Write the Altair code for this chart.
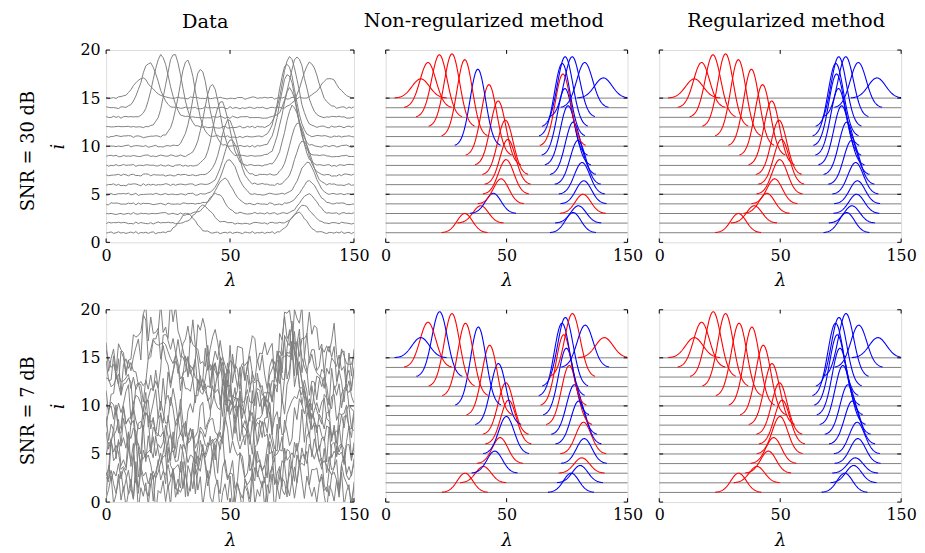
import altair as alt
import numpy as np
import pandas as pd

# ---------------- data ----------------
ROWS = [1, 2, 3, 4, 5, 6, 7, 8, 9, 10, 11, 12, 13, 14, 15]
SIGMA = [3.2, 3.2, 3.2, 3.2, 3.2, 3.2, 3.2, 3.2, 3.2, 3.2, 3.2, 3.2, 3.2, 3.3, 3.6]

# SNR = 30 dB : component 1 (left) and component 2 (right)
HI_LEFT_C = [32.7, 39.3, 44.5, 47.7, 49.8, 50.5, 49.5, 46.5, 42.7, 38.1, 32.7, 27.4, 22.2, 17.5, 14.5]
HI_LEFT_A = [2.0, 1.8, 2.1, 2.6, 3.6, 4.7, 5.7, 6.7, 7.4, 8.0, 8.0, 7.6, 6.5, 4.7, 2.0]
HI_RIGHT_C = [77.5, 79.7, 81.6, 81.9, 81.2, 79.5, 77.5, 75.4, 74.1, 73.3, 73.0, 74.2, 77.1, 82.3, 90.0]
HI_RIGHT_A = [2.1, 1.8, 2.0, 2.4, 3.3, 4.6, 5.5, 6.2, 7.0, 7.5, 7.6, 7.3, 6.3, 4.7, 2.1]
# rows where the non-regularized method swaps the two components
HI_SWAP = [3, 10]

# SNR = 7 dB
LO_LEFT_C = [32.8, 40.4, 45.1, 47.3, 49.9, 50.8, 49.7, 46.6, 43.0, 38.3, 33.0, 27.4, 22.3, 17.5, 14.5]
LO_LEFT_A = [2.0, 1.7, 2.3, 2.7, 3.9, 4.6, 5.4, 6.4, 7.3, 8.2, 7.6, 7.6, 6.8, 4.7, 2.1]
LO_RIGHT_C = [76.7, 80.4, 81.1, 82.1, 81.8, 79.8, 78.0, 75.9, 74.7, 73.6, 72.9, 74.3, 77.2, 82.5, 90.4]
LO_RIGHT_A = [2.0, 1.8, 1.6, 2.6, 3.3, 4.5, 5.2, 6.2, 7.0, 7.4, 7.6, 7.2, 6.6, 4.4, 2.1]
LO_SWAP = [3, 5, 8, 10, 13, 15]

# measurement noise (hand-typed offsets, reused per row with a row-specific stride)
NOISE = [0.4, -1.1, 0.9, 1.6, -0.3, -1.8, 0.7, 0.2, -0.9, 1.3,
         -0.5, 2.1, -1.4, 0.1, 0.8, -2.0, 1.1, -0.6, 0.3, 1.7,
         -1.2, -0.2, 1.9, -0.8, 0.6, -1.5, 0.0, 1.4, -0.7, 2.3,
         -1.9, 0.5, -0.4, 1.0, -1.3, 0.9, 1.8, -2.2, 0.2, -0.1,
         1.2, -1.0, 0.7, -1.6, 2.0, -0.3, 0.4, -0.9, 1.5, -2.4,
         0.8, 0.1, -1.2, 1.6, -0.6, 1.1, -1.7, 0.3, 2.2, -0.5,
         -1.1, 0.6, 1.3, -2.1, 0.0, 0.9, -0.8, 1.7, -1.4, 0.2,
         1.0, -0.2, -1.9, 1.4, 0.5, -0.7, 2.4, -1.3, 0.3, -0.4,
         1.2, -1.6, 0.8, -0.1, 1.9, -2.3, 0.6, -0.9, 1.1, 0.4,
         -1.5, 2.0, -0.6, 0.7, -1.0, 1.5, -0.3, -1.8, 0.9, 0.1,
         -0.7]
NOISE_SCALE = {"hi": 0.05, "lo": 1.0}

COL_TITLES = ["Data", "Non-regularized method", "Regularized method"]
ROW_LABELS = ["SNR = 30 dB", "SNR = 7 dB"]
X_TICKS = [0, 50, 100]
X_TICK_LABELS = ["0", "50", "150"]
Y_TICKS = [0, 5, 10, 15, 20]

FONT = "DejaVu Serif"
RED = "#ff0000"
BLUE = "#0000ff"
GRAY = "#808080"

PARAMS = {
    "hi": (HI_LEFT_C, HI_LEFT_A, HI_RIGHT_C, HI_RIGHT_A, HI_SWAP),
    "lo": (LO_LEFT_C, LO_LEFT_A, LO_RIGHT_C, LO_RIGHT_A, LO_SWAP),
}


def gauss(x, c, a, s):
    return a * np.exp(-0.5 * ((x - c) / s) ** 2)


def data_frame(level):
    lc, la, rc, ra, _ = PARAMS[level]
    lam = np.arange(0, 101)
    recs = []
    for j, r in enumerate(ROWS):
        idx = (lam * r + 17 * r) % len(NOISE)
        noise = np.array(NOISE)[idx] * NOISE_SCALE[level]
        y = r + gauss(lam, lc[j], la[j], SIGMA[j]) + gauss(lam, rc[j], ra[j], SIGMA[j]) + noise
        for xv, yv in zip(lam, y):
            recs.append({"lam": float(xv), "y": float(yv), "row": r})
    return pd.DataFrame(recs)


def comp_frame(level, regularized):
    lc, la, rc, ra, swap = PARAMS[level]
    recs = []
    for j, r in enumerate(ROWS):
        s = SIGMA[j]
        for name, c, a in (("L", lc[j], la[j]), ("R", rc[j], ra[j])):
            col = "red" if name == "L" else "blue"
            if not regularized and r in swap:
                col = "blue" if col == "red" else "red"
            xs = np.arange(max(0.0, c - 3 * s), min(100.0, c + 3 * s) + 1e-9, 0.25)
            for xv in xs:
                recs.append({"lam": float(xv), "y": float(r + gauss(xv, c, a, s)),
                             "key": f"{r}-{name}", "col": col})
    return pd.DataFrame(recs)


xscale = alt.Scale(domain=[0, 100], nice=False, zero=False)
yscale = alt.Scale(domain=[0, 20], nice=False, zero=False)
label_expr = " : ".join(
    [f"datum.value == {v} ? '{t}'" for v, t in zip(X_TICKS, X_TICK_LABELS)] + ["''"]
)

LBL = 16
xaxis = alt.Axis(values=X_TICKS, labelExpr=label_expr, ticks=False, domain=False, grid=False,
                 title="λ", labelFont=FONT, labelFontSize=LBL, labelColor="black",
                 labelFlush=False, labelPadding=5, titleFont=FONT, titleFontSize=18,
                 titleFontStyle="italic", titleFontWeight="normal", titleColor="black",
                 titlePadding=9)
yaxis_left = alt.Axis(values=Y_TICKS, ticks=False, domain=False, grid=False, title="i",
                      labelFont=FONT, labelFontSize=LBL, labelColor="black", labelFlush=False,
                      labelPadding=6, titleFont=FONT, titleFontSize=18, titleFontStyle="italic",
                      titleFontWeight="normal", titleColor="black", titlePadding=13)

# inward tick marks (axis decoration)
TX = 1.6
TY = 0.4
tick_recs = []
for v in X_TICKS:
    tick_recs.append({"x": v, "x2": v, "y": 0, "y2": TY})
    tick_recs.append({"x": v, "x2": v, "y": 20 - TY, "y2": 20})
for v in Y_TICKS:
    tick_recs.append({"x": 0, "x2": TX, "y": v, "y2": v})
    tick_recs.append({"x": 100 - TX, "x2": 100, "y": v, "y2": v})
ticks_df = pd.DataFrame(tick_recs)


def tick_layer(show_y):
    return alt.Chart(ticks_df).mark_rule(color="black", strokeWidth=1).encode(
        x=alt.X("x:Q", scale=xscale, axis=xaxis),
        x2="x2:Q",
        y=alt.Y("y:Q", scale=yscale, axis=yaxis_left if show_y else None),
        y2="y2:Q",
    )


W = [250, 244, 244]
H = 194
TITLE_DX = [-25, -23, 6]
TITLE_OFFSET = [10, 18, 18]


def panel(level, col, row_idx):
    show_y = col == 0
    layers = []
    if col == 0:
        df = data_frame(level)
        layers.append(alt.Chart(df).mark_line(color=GRAY, strokeWidth=1, clip=True).encode(
            x=alt.X("lam:Q", scale=xscale, axis=xaxis),
            y=alt.Y("y:Q", scale=yscale, axis=yaxis_left),
            detail="row:N",
        ))
        lab = pd.DataFrame({"t": [ROW_LABELS[row_idx]]})
        layers.append(alt.Chart(lab).mark_text(angle=270, font=FONT, fontSize=18,
                                               color="black").encode(
            text="t:N", x=alt.value(-78), y=alt.value(H / 2 + 5)))
    else:
        base = pd.DataFrame({"row": ROWS})
        layers.append(alt.Chart(base).mark_rule(color=GRAY, strokeWidth=1).encode(
            y=alt.Y("row:Q", scale=yscale, axis=None),
            x=alt.datum(0),
            x2=alt.datum(100),
        ))
        df = comp_frame(level, regularized=(col == 2))
        layers.append(alt.Chart(df).mark_line(strokeWidth=1.1, clip=True).encode(
            x=alt.X("lam:Q", scale=xscale, axis=xaxis),
            y=alt.Y("y:Q", scale=yscale, axis=None),
            detail="key:N",
            color=alt.Color("col:N", scale=alt.Scale(domain=["red", "blue"], range=[RED, BLUE]),
                            legend=None),
        ))
    layers.append(tick_layer(show_y))
    ch = alt.layer(*layers).properties(width=W[col], height=H)
    if row_idx == 0:
        ch = ch.properties(title=alt.Title(COL_TITLES[col], font=FONT, fontSize=19.5,
                                           fontWeight="normal", color="black",
                                           offset=TITLE_OFFSET[col], dx=TITLE_DX[col]))
    return ch


panels = [panel("hi", c, 0) for c in range(3)] + [panel("lo", c, 1) for c in range(3)]
chart = alt.concat(*panels, columns=3, spacing={"row": 68, "column": 32}, bounds="flush",
                   align="each").properties(
    padding={"left": 11, "top": 0, "right": 0, "bottom": 0}
).configure_view(stroke="black", strokeWidth=1).configure(background="white")

chart.save("out.html", embed_options={"renderer": "svg", "actions": False})
